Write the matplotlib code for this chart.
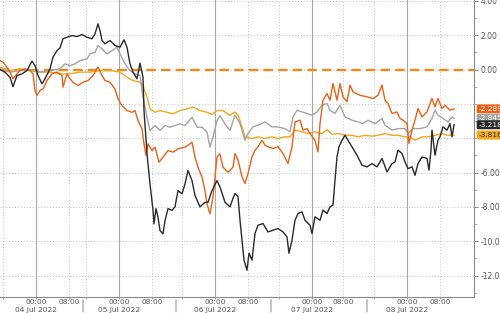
import matplotlib
matplotlib.use("AGG")
from matplotlib import pyplot as plt

# chart time index (0 = left edge, 474 = right axis) and values
black_t = [0, 5, 10, 13, 17, 22, 27, 32, 35, 38, 42, 45, 50, 53, 57, 60, 63, 67, 72, 77,
           82, 87, 92, 95, 98, 100, 102, 105, 110, 115, 120, 124, 127, 130, 133, 137, 140, 143, 144, 147,
           150, 153, 154, 156, 158, 160, 163, 165, 168, 172, 175, 178, 182, 185, 188, 192, 195, 200, 205, 208,
           212, 217, 220, 225, 230, 233,
           235, 238, 240, 242, 244, 247, 249, 252, 255, 258, 263, 268, 273, 278, 283, 287, 289, 292, 295, 298,
           302, 305, 310, 312, 315, 320, 323, 327, 330, 333, 335, 337, 339, 342, 345, 348, 352, 357, 362, 367,
           372, 377, 382, 387, 392, 395, 398, 402, 405, 408, 412, 415, 418, 422, 427, 429, 431, 432, 435, 438,
           440, 443, 447, 450, 452, 454]
black_v = [0.0, -0.15, -0.45, -1.0, -0.35, -0.25, -0.06, 0.49, 0.23, -0.35, -0.83, -0.54, 0.04, 0.72, 1.1,
           1.26, 1.79, 1.88, 1.98, 1.92, 2.04, 1.88, 1.79, 2.08, 2.66, 2.27, 1.69, 1.5, 1.69, 1.4,
           1.3, 1.73, 1.3, 0.33, -0.15, -0.54, 0.37, -0.45, -2.39, -4.91, -6.66, -8.2, -8.99, -8.1, -8.6,
           -9.38, -9.57, -8.8, -8.1, -8.2, -8.0, -7.05, -7.24, -6.66, -5.88, -6.47, -7.34, -8.0, -7.73, -7.73,
           -7.05, -6.47, -6.85, -7.73, -8.0, -7.5,
           -7.22, -7.4, -8.78, -9.94, -11.1, -11.69, -10.7, -11.1, -9.55, -9.07, -8.97, -9.46, -9.36, -9.26,
           -9.46, -9.75, -10.7, -9.94, -8.78, -8.39, -8.29, -8.78, -9.07, -9.55, -8.58, -8.78, -8.19, -8.39,
           -8.0, -7.9, -6.45, -5.09, -4.5, -4.12, -3.83, -4.12, -4.5, -4.99, -5.57, -5.67, -5.48, -5.67, -5.18,
           -5.96, -5.48, -5.38, -4.70, -4.89, -5.38, -5.77, -5.67, -6.16, -5.48, -5.09, -5.18, -5.86, -4.7,
           -3.53, -4.99, -4.12, -3.92, -3.34, -3.53, -3.15, -3.92, -3.22]

gray_t = [0, 10, 20, 30, 40, 50, 60, 65, 70, 75, 80, 87, 90, 95, 98, 102, 107, 112, 117, 120,
          125, 130, 135, 140, 143, 147, 150, 155, 160, 165, 170, 175, 180, 185, 192, 197, 202, 207, 210, 213,
          217, 220, 225, 230,
          235, 240, 245, 248, 253, 258, 265, 272, 278, 285, 290, 293, 297, 302, 307, 312, 317, 322, 327, 330,
          335, 340, 345, 352, 358, 363, 368, 375, 382, 385, 392, 398, 405, 408, 413, 420, 427, 432, 435, 438,
          443, 448, 452, 454]
gray_v = [0.04, -0.15, -0.06, -0.02, -0.15, -0.06, 0.04, 0.33, 0.23, 0.33, 0.52, 0.62, 0.91, 1.0, 1.4, 1.2,
          0.91, 1.1, 1.3, 0.91, 0.33, -0.06, -0.25, -0.35, -1.61, -2.78, -3.55, -3.26, -3.55, -3.26, -3.36,
          -3.26, -3.17, -3.26, -2.78, -3.36, -3.36, -3.65, -4.52, -3.94, -2.97, -2.68, -3.17, -3.55,
          -2.66, -3.15, -4.12, -3.73, -3.34, -3.24, -3.05, -3.34, -3.34, -3.44, -3.63, -2.76, -2.37, -2.47,
          -2.56, -2.66, -2.47, -2.08, -1.98, -2.37, -2.56, -2.08, -2.76, -2.95, -3.05, -3.15, -2.95, -3.15,
          -2.85, -3.24, -3.53, -3.44, -3.44, -3.73, -3.44, -3.44, -3.34, -2.85, -2.37, -2.66, -2.85, -3.05,
          -2.76, -2.85]

orange_t = [0, 3, 7, 10, 13, 17, 20, 25, 30, 33, 35, 37, 40, 43, 47, 52, 57, 62, 63, 67,
            70, 73, 78, 83, 88, 93, 98, 102, 105, 110, 115, 118, 122, 127, 132, 135, 138, 142, 144, 146,
            148, 152, 155, 159, 163, 168, 173, 178, 185, 190, 192, 195, 198, 202, 205, 207, 210, 213, 215, 217,
            220, 223, 228, 233,
            235, 238, 242, 245, 248, 252, 255, 258, 262, 265, 268, 273, 278, 283, 288, 292, 295, 300, 303, 307,
            310, 315, 318, 320, 323, 327, 330, 333, 337, 340, 343, 347, 350, 353, 360, 367, 373, 378, 382, 385,
            388, 392, 397, 400, 403, 407, 409, 412, 415, 418, 422, 427, 432, 435, 438, 442, 445, 450, 454]
orange_v = [0.52, 0.43, 0.14, -0.15, -0.54, -0.25, -0.06, 0.04, -0.06, -0.25,
            -1.22, -1.51, -1.22, -1.13, -0.64, -0.25, -0.15, -0.35, -1.03, -0.25,
            -0.54, -0.74, -0.93, -0.74, -0.64, -0.35, 0.14, -0.35, -0.64, -0.74,
            -1.13, -1.71, -2.1, -2.39, -2.49, -2.39, -2.97, -3.46, -4.33, -5.0,
            -4.33, -4.72, -4.52, -5.4, -5.1, -4.72, -4.81, -4.62, -4.52, -4.33,
            -4.23, -5.1, -5.69, -6.27, -7.05, -7.83, -8.41, -7.44, -6.27, -5.1,
            -4.91, -5.69, -5.98, -5.69,
            -4.89, -5.28, -6.25, -6.64, -6.06, -5.09, -4.70, -4.5, -4.12, -4.41,
            -4.5, -4.6, -4.5, -4.89, -5.48, -4.5, -3.05, -2.95, -3.53, -3.44,
            -3.73, -4.12, -4.8, -3.15, -1.79, -1.4, -1.79, -0.82, -1.79, -0.82,
            -1.59, -1.88, -0.91, -1.3, -1.5, -1.59, -1.69, -1.5, -0.91, -1.79,
            -1.98, -2.56, -2.47, -2.85, -2.95, -3.15, -4.31, -3.53, -2.95, -2.27,
            -2.76, -2.47, -1.69, -2.17, -1.69, -2.27, -2.08, -2.37, -2.29]

yellow_t = [0, 10, 20, 30, 40, 50, 60, 70, 80, 90, 100, 110, 120, 127, 133, 140, 143, 147, 150, 155,
            160, 167, 173, 180, 187, 193, 200, 207, 212, 217, 223, 230,
            235, 238, 242, 245, 252, 258, 265, 272, 278, 285, 290, 295, 302, 308, 315, 322, 327, 332, 338, 345,
            352, 358, 365, 372, 378, 385, 392, 398, 405, 410, 415, 422, 428, 435, 442, 448, 454]
yellow_v = [0.14, -0.06, 0.04, -0.06, -0.15, -0.15, -0.25, -0.25, -0.15, -0.15,
            -0.06, -0.06, -0.15, -0.45, -0.64, -0.74, -0.93, -1.61, -2.29, -2.49,
            -2.39, -2.49, -2.58, -2.39, -2.29, -2.19, -2.39, -2.49, -2.62, -2.39,
            -2.39, -2.68,
            -2.47, -2.66, -3.34, -3.92, -4.02, -3.92, -4.02, -3.92, -4.02, -3.92,
            -3.92, -3.53, -3.63, -3.73, -3.63, -3.73, -3.5, -3.77, -3.73, -3.83,
            -3.83, -3.92, -3.83, -3.88, -3.83, -3.73, -3.83, -3.83, -3.92, -3.92,
            -4.12, -3.92, -3.92, -3.83, -3.73, -3.83, -3.82]

last_labels = ["-2.2893", "-2.8456", "-3.2187", "-3.8163"]
last_values = [-2.2893, -2.8456, -3.2187, -3.8163]

day_starts = [36, 119, 215, 312, 407]
eight_am = [69, 152, 248, 343, 440]
four_pm = [3, 86, 182, 279, 374]
day_breaks = [83, 176, 271, 367]
day_names = ["04 Jul 2022", "05 Jul 2022", "06 Jul 2022", "07 Jul 2022", "08 Jul 2022"]

c_black = "#2a2a2a"
c_gray = "#a3a3a3"
c_orange = "#ea6217"
c_yellow = "#f2a81d"
c_zero = "#f0881e"

fig = plt.figure(figsize=(5, 3.13), dpi=100)
ax = fig.add_axes([0, 1 - 297 / 313, 474 / 500, 297 / 313])

ax.set_xlim(0, 474)
ax.set_ylim(-13.25, 4.05)

# grid
for y in range(4, -13, -2):
    ax.axhline(y, color="#c4c4c4", lw=0.7, ls=(0, (1, 2)), zorder=1)
for x in eight_am + four_pm:
    ax.axvline(x, color="#c4c4c4", lw=0.7, ls=(0, (1, 2)), zorder=1)
for x in day_starts:
    ax.axvline(x, color="#a8a8a8", lw=0.8, zorder=1)

ax.axhline(0, color=c_zero, lw=1.7, ls=(0, (4, 2.2)), zorder=2)

ax.plot(yellow_t, yellow_v, color=c_yellow, lw=1.0, zorder=3)
ax.plot(gray_t, gray_v, color=c_gray, lw=1.0, zorder=4)
ax.plot(orange_t, orange_v, color=c_orange, lw=1.0, zorder=5)
ax.plot(black_t, black_v, color=c_black, lw=1.0, zorder=6)

for s in ["top", "left"]:
    ax.spines[s].set_visible(False)
for s in ["bottom", "right"]:
    ax.spines[s].set_color("#8a8a8a")
    ax.spines[s].set_linewidth(0.8)

# right y axis
ax.yaxis.tick_right()
yt = [4, 2, 0, -6, -8, -10, -12]
ax.set_yticks(yt)
ax.set_yticklabels(["%.2f" % v for v in yt])
ax.set_yticks(list(range(3, -14, -1)), minor=True)
ax.tick_params(axis="y", which="major", length=3, width=0.6, color="#777777",
               labelsize=5.5, labelcolor="#555555", pad=1.5)
ax.tick_params(axis="y", which="minor", length=2, width=0.5, color="#999999")

# bottom axis
ax.set_xticks(day_starts + eight_am)
ax.set_xticklabels(["00:00"] * len(day_starts) + ["08:00"] * len(eight_am))
ax.set_xticks(four_pm, minor=True)
ax.tick_params(axis="x", which="major", length=1.5, width=0.5, color="#888888",
               labelsize=5.3, labelcolor="#555555", pad=0.2)
ax.tick_params(axis="x", which="minor", length=1.5, width=0.5, color="#888888")

for x, name in zip(day_starts, day_names):
    ax.annotate(name, xy=(x, 0), xycoords=("data", "axes fraction"), xytext=(0, -9.3),
                textcoords="offset points", ha="center", va="center", fontsize=5.3, color="#555555",
                annotation_clip=False)
for x in day_breaks:
    ax.annotate("", xy=(x, 0), xycoords=("data", "axes fraction"), xytext=(x, -0.06),
                textcoords=("data", "axes fraction"),
                arrowprops=dict(arrowstyle="-", color="#8a8a8a", lw=0.7), annotation_clip=False)

# last value tags
tag_colors = [c_orange, c_gray, c_black, c_yellow]
tag_text = ["white", "white", "white", "#333333"]
for lab, v, fc, tc in zip(last_labels, last_values, tag_colors, tag_text):
    ax.annotate(lab, xy=(1, v), xycoords=("axes fraction", "data"), xytext=(3, 0),
                textcoords="offset points", ha="left", va="center", fontsize=5.3, color=tc,
                bbox=dict(boxstyle="round,pad=0.2", fc=fc, ec="none"), annotation_clip=False, zorder=10)

plt.savefig("out.png", dpi=100)
